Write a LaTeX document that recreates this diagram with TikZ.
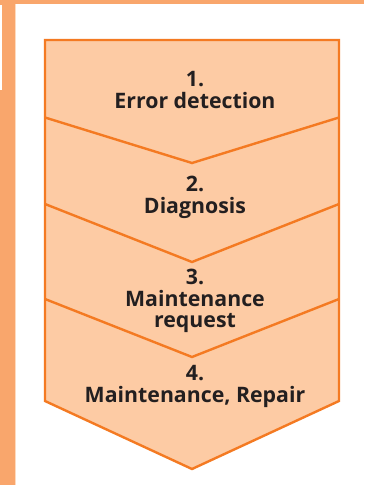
\documentclass[tikz,border=0pt]{standalone}
\usepackage{fontspec}
\setmainfont{Open Sans}
\definecolor{bgorange}{HTML}{F9A66C}
\definecolor{boxfill}{HTML}{FDCBA4}
\definecolor{boxline}{HTML}{F47A22}
\definecolor{txt}{HTML}{231F20}
\begin{document}
\begin{tikzpicture}[x=1bp,y=-1bp,
  lbl/.style={anchor=base,inner sep=0pt,text=txt,font=\fontsize{21.3bp}{23bp}\selectfont\bfseries},
  sep/.style={draw=boxline,line width=2.4bp,line join=miter}]
\useasboundingbox (0,0) rectangle (364,485);
\fill[white] (0,0) rectangle (364,485);
% background frame
\fill[bgorange] (0,0) rectangle (364,4.5);
\fill[bgorange] (0,4.5) rectangle (15,485);
\fill[white] (0,5) rectangle (1.7,90);
\fill[boxfill!70!white] (15,4.5) rectangle (16,485);
% chevron box
\path[fill=boxfill,sep] (45,40) -- (339,40) -- (339,401) -- (192,469) -- (45,401) -- cycle;
\draw[sep] (45,117.5) -- (192,163) -- (339,117.5);
\draw[sep] (45,204) -- (192,262) -- (339,204);
\draw[sep] (45,299) -- (192,357) -- (339,299);
% labels
\node[lbl] (s1a) at (195,87) {1.};
\node[lbl] (s1b) at (195,109) {Error detection};
\node[lbl] (s2a) at (195,192) {2.};
\node[lbl] (s2b) at (195,213) {Diagnosis};
\node[lbl] (s3a) at (195,284) {3.};
\node[lbl] (s3b) at (195,306) {Maintenance};
\node[lbl] (s3c) at (195,327) {request};
\node[lbl] (s4a) at (195,380) {4.};
\node[lbl] (s4b) at (195,402) {Maintenance, Repair};
\end{tikzpicture}
\end{document}
